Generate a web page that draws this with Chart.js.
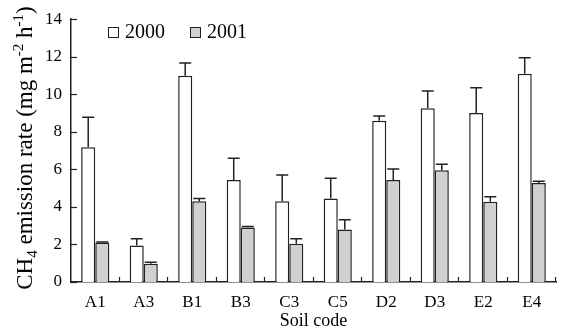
<!DOCTYPE html>
<html>
<head>
<meta charset="utf-8">
<script src="https://cdn.jsdelivr.net/npm/chart.js@4/dist/chart.umd.min.js"></script>
<style>
  body { margin: 0; background: #fff; }
  canvas { display: block; }
</style>
</head>
<body>
<canvas id="ch4Chart" width="561" height="332"></canvas>
<script>
// CH4 emission rate per soil, two years, upper error bars only
const categories = ["A1", "A3", "B1", "B3", "C3", "C5", "D2", "D3", "E2", "E4"];
const rate2000 = [7.18, 1.95, 10.99, 5.44, 4.3, 4.45, 8.59, 9.26, 9.0, 11.09];
const rate2001 = [2.1, 0.97, 4.3, 2.9, 2.04, 2.8, 5.44, 5.95, 4.28, 5.28];
const err2000 = [1.59, 0.35, 0.68, 1.15, 1.4, 1.08, 0.25, 0.92, 1.35, 0.85];
const err2001 = [0.03, 0.08, 0.15, 0.06, 0.26, 0.51, 0.58, 0.32, 0.26, 0.09];
const yTicks = [0, 2, 4, 6, 8, 10, 12, 14];

const serif = "'Liberation Serif', 'DejaVu Serif', serif";

// error bars + tick marks drawn on top of the bars
const errorBars = {
  id: "errorBars",
  afterDatasetsDraw(chart) {
    const ctx = chart.ctx;
    const y = chart.scales.y;
    ctx.save();
    ctx.strokeStyle = "#222";
    ctx.lineWidth = 1.5;
    chart.data.datasets.forEach((ds, i) => {
      const meta = chart.getDatasetMeta(i);
      meta.data.forEach((bar, j) => {
        const top = y.getPixelForValue(ds.data[j] + ds.errors[j]);
        ctx.beginPath();
        ctx.moveTo(bar.x, bar.y);
        ctx.lineTo(bar.x, top);
        ctx.moveTo(bar.x - 6, top);
        ctx.lineTo(bar.x + 6, top);
        ctx.stroke();
      });
    });
    ctx.restore();
  },
  afterDraw(chart) {
    const ctx = chart.ctx;
    const y = chart.scales.y;
    const area = chart.chartArea;
    ctx.save();
    ctx.strokeStyle = "#222";
    ctx.lineWidth = 1.2;
    // y ticks pointing inward
    yTicks.forEach((v) => {
      const py = Math.round(y.getPixelForValue(v)) + 0.5;
      ctx.beginPath();
      ctx.moveTo(area.left, py);
      ctx.lineTo(area.left + 6, py);
      ctx.stroke();
    });
    // x ticks between categories, pointing up
    const step = (area.right - area.left) / categories.length;
    for (let i = 1; i <= categories.length; i++) {
      const px = Math.round(area.left + i * step) - 0.5;
      ctx.beginPath();
      ctx.moveTo(px, area.bottom);
      ctx.lineTo(px, area.bottom - 5);
      ctx.stroke();
    }

    // legend
    ctx.font = "20px " + serif;
    ctx.textBaseline = "middle";
    ctx.lineWidth = 1;
    const legendX = [108, 190];
    chart.data.datasets.forEach((ds, i) => {
      ctx.fillStyle = ds.backgroundColor;
      ctx.fillRect(legendX[i] + 0.5, 27.5, 10, 10);
      ctx.strokeRect(legendX[i] + 0.5, 27.5, 10, 10);
      ctx.fillStyle = "#000";
      ctx.fillText(ds.label, legendX[i] + 17, 33);
    });

    // y axis title with sub/superscripts
    const parts = [
      ["CH", 0], ["4", 1], [" emission rate (mg m", 0], ["-2", -1],
      [" h", 0], ["-1", -1], [")", 0]
    ];
    const big = "23px " + serif;
    const small = "15px " + serif;
    let total = 0;
    parts.forEach((p) => {
      ctx.font = p[1] ? small : big;
      total += ctx.measureText(p[0]).width;
    });
    ctx.translate(32, 148);
    ctx.rotate(-Math.PI / 2);
    ctx.textBaseline = "alphabetic";
    ctx.fillStyle = "#000";
    let cx = -total / 2;
    parts.forEach((p) => {
      ctx.font = p[1] ? small : big;
      const dy = p[1] === 1 ? 5 : p[1] === -1 ? -9 : 0;
      ctx.fillText(p[0], cx, dy);
      cx += ctx.measureText(p[0]).width;
    });
    ctx.restore();
  }
};

new Chart(document.getElementById("ch4Chart"), {
  type: "bar",
  data: {
    labels: categories,
    datasets: [
      {
        label: "2000",
        data: rate2000,
        errors: err2000,
        backgroundColor: "#ffffff",
        borderColor: "#222",
        borderWidth: 1.5,
      },
      {
        label: "2001",
        data: rate2001,
        errors: err2001,
        backgroundColor: "#d0d0d0",
        borderColor: "#222",
        borderWidth: 1.5,
      },
    ],
  },
  options: {
    responsive: false,
    animation: false,
    layout: { padding: { left: 0, top: 17, right: 5, bottom: 0 } },
    datasets: { bar: { categoryPercentage: 0.58, barPercentage: 1.0 } },
    plugins: { legend: { display: false }, tooltip: { enabled: false } },
    scales: {
      x: {
        grid: { display: false, drawTicks: false },
        border: { display: true, color: "#222", width: 1.5 },
        ticks: { color: "#000", padding: 10, font: { family: serif, size: 17 } },
        title: {
          display: true,
          text: "Soil code",
          color: "#000",
          padding: { top: 0, bottom: 0 },
          font: { family: serif, size: 18 },
        },
        afterFit: (s) => { s.height = 50; },
      },
      y: {
        min: 0,
        max: 14,
        grid: { display: false, drawTicks: false },
        border: { display: true, color: "#222", width: 1.5 },
        ticks: {
          stepSize: 2,
          color: "#000",
          padding: 9,
          font: { family: serif, size: 17 },
        },
        afterFit: (s) => { s.width = 71; },
      },
    },
  },
  plugins: [errorBars],
});
</script>
</body>
</html>
